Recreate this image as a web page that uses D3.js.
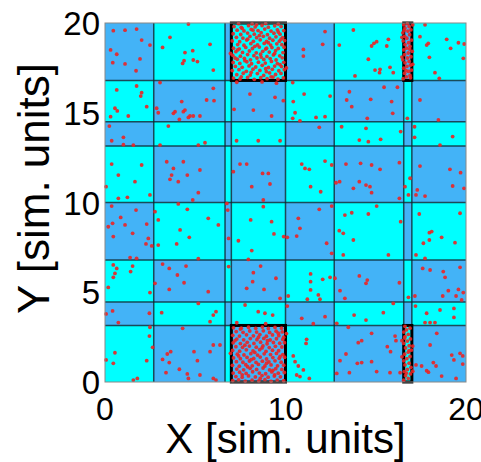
<!DOCTYPE html>
<html>
<head>
<meta charset="utf-8">
<script src="https://cdn.jsdelivr.net/npm/d3@7"></script>
<style>
  html, body { margin: 0; padding: 0; background: #fff; }
  svg { display: block; font-family: "Liberation Sans", Arial, sans-serif; }
</style>
</head>
<body>
<svg id="chart"></svg>
<script>
// cell boundaries of the decomposition (sim. units)
var xEdges = [0, 2.7, 6.65, 7.0, 10.0, 12.7, 16.55, 17.0, 20];
var yEdges = [0, 3.15, 4.45, 6.8, 10.0, 13.15, 14.5, 16.8, 20];

// overloaded cells [x0, x1, y0, y1]
var hotCells = [
    [7.0, 10.0, 16.8, 20], [7.0, 10.0, 0, 3.15],
    [16.55, 17.0, 16.8, 20], [16.55, 17.0, 0, 3.15]
];

var xTicks = [0, 10, 20];
var yTicks = [0, 5, 10, 15, 20];

// particles in the ordinary cells
var sparsePts = [
    [0.46,19.57],[1.11,19.6],[1.75,19.66],[2.03,19.05],[2.49,18.77],[0.31,18.5],[0.65,18.26],[1.94,18.0],[0.43,17.79],[1.72,17.34],[1.11,17.72],
    [4.62,19.94],[3.6,19.2],[3.19,18.64],[5.82,18.81],[4.43,18.35],[4.86,18.46],[4.38,17.9],[4.89,17.94],[5.12,17.85],[4.3,17.75],[6.0,17.38],
    [0.65,16.27],[1.75,16.49],[2.03,16.12],[1.98,15.93],[2.31,15.34],[0.55,15.25],[0.68,15.1],[1.29,14.82],[0.31,14.78],
    [3.05,16.68],[6.0,16.36],[5.63,15.71],[6.04,15.67],[4.25,15.62],[2.86,15.25],[2.95,15.0],[3.88,15.06],[4.34,15.06],[4.43,15.15],[3.79,14.97],[4.71,14.82],[4.62,14.74],[4.89,14.82],[5.26,14.82],[4.12,14.63],
    [8.03,16.04],[9.42,15.86],[9.88,15.67],[7.15,15.19],[8.22,15.15],[9.23,14.82],
    [0.24,14.26],[1.02,13.63],[0.37,13.44],[1.57,13.2],[1.02,13.22],
    [3.51,14.26],[5.54,13.33],[3.05,13.2],[5.17,13.2],
    [7.29,13.44],[8.49,13.44],[9.7,13.44],
    [0.37,12.14],[2.03,12.09],[0.74,11.53],[1.66,11.16],[0.06,10.88],[2.49,10.42],[0.74,10.23],[1.24,10.29],
    [3.42,12.27],[3.79,11.9],[4.34,12.27],[3.69,11.53],[3.6,11.29],[4.56,11.53],[4.06,11.16],[5.26,11.81],[5.17,10.55],[4.86,10.14],
    [7.48,12.14],[7.85,12.14],[8.73,11.62],[9.05,11.62],[9.14,11.03],[8.13,10.88],[8.77,10.14],[7.11,11.72],
    [0.37,9.8],[1.72,9.58],[0.87,9.17],[0.42,8.84],[0.18,8.65],[1.11,8.75],[1.53,8.28],[2.31,8.8],[0.46,8.1],[2.4,8.0],[2.27,7.69],[2.59,7.58],[1.39,6.93],[1.75,6.89],
    [4.06,9.92],[4.56,9.62],[2.77,9.49],[2.95,9.03],[5.72,9.12],[6.28,8.75],[4.16,8.47],[4.67,8.06],[3.97,7.69],[2.95,7.63],[5.17,6.87],
    [6.75,9.95],[6.8,9.58],[6.85,8.0],
    [8.77,9.77],[8.07,9.03],[9.23,8.93],[9.36,8.25],[9.9,8.1],[7.39,7.87],[8.13,7.32],[7.94,6.83],
    [0.46,6.52],[0.65,6.33],[1.53,6.46],[0.55,6.05],[0.46,5.83],[1.42,6.15],[0.18,5.27],[2.49,4.98],
    [3.19,6.57],[3.56,6.33],[4.49,6.46],[4.01,5.96],[4.38,5.53],[2.77,5.5],[3.56,5.16],[5.72,5.03],
    [6.85,6.43],
    [8.62,6.46],[8.22,6.09],[9.47,5.78],[8.18,5.59],[7.85,5.22],[8.81,5.16],[9.7,4.66],
    [0.06,3.79],[0.42,3.96],[2.46,3.83],[0.74,3.31],
    [3.14,3.86],[5.17,4.38],[6.15,3.92],[6.0,3.73],[5.82,3.36],
    [7.76,4.29],[8.49,3.92],[8.86,3.83],[9.29,3.73],
    [2.49,3.05],[2.46,2.56],[2.64,1.93],[0.55,1.63],[0.46,1.04],[2.31,1.19],[0.06,1.23],[1.57,0.11],[1.79,0.2],
    [4.3,2.99],[6.0,2.06],[6.37,2.06],[3.64,1.69],[3.45,1.56],[4.93,1.69],[5.82,1.69],[3.19,1.26],[5.12,1.19],[3.56,1.08],[4.12,0.71],[3.38,0.52],[4.56,0.45],[5.26,0.39],[4.62,0.2],[6.0,0.2],[6.15,0.11],
    [12.19,19.52],[12.06,18.81],[10.99,18.53],[10.99,18.16],
    [13.76,19.61],[12.98,18.77],[14.77,18.72],[14.9,18.87],[15.05,18.96],[15.7,19.09],[15.61,18.72],[14.59,17.98],[14.96,17.38],[15.24,17.42],[15.21,17.23],[15.79,17.53],[15.97,17.23],[13.85,17.05],
    [17.73,19.9],[17.91,18.87],[17.82,18.77],[18.93,19.09],[19.15,18.59],[19.58,18.9],[19.9,18.83],[19.85,18.03],[17.97,18.09],[18.28,17.23],[18.52,16.92],[17.45,19.24],
    [10.4,16.68],[11.03,16.04],[10.43,15.62],[12.47,15.93],[10.53,15.0],[10.4,14.69],[11.69,14.74],[12.19,14.78],[10.8,14.55],
    [13.54,16.17],[13.39,15.71],[13.67,15.34],[14.72,15.75],[15.46,16.42],[16.2,16.42],[15.88,15.62],[15.94,14.97],[14.53,14.69],
    [16.75,14.69],[17.45,15.71],[18.47,14.6],
    [11.87,14.19],
    [13.11,14.22],[14.46,14.13],[14.09,13.48],[14.59,13.39],[15.27,13.52],[16.38,13.95],
    [17.15,14.22],[19.26,13.67],[17.15,13.63],[18.56,13.2],
    [10.9,12.14],[11.08,11.9],[11.32,11.85],[12.19,12.31],[12.56,12.09],[11.39,10.88],[11.95,10.6],
    [13.35,12.14],[14.16,12.18],[14.77,12.09],[15.24,11.85],[16.31,12.22],[12.8,11.1],[13.0,11.16],[14.09,11.16],[14.46,10.97],[14.68,10.88],[13.76,10.79],[14.77,10.55],[16.31,10.23],
    [16.9,11.35],[16.62,10.88],[16.81,10.42],
    [17.45,12.03],[19.11,11.85],[19.7,11.66],[19.26,10.92],[19.89,10.79],[17.3,10.7],[17.23,10.42],[17.73,10.36],
    [12.56,9.8],[11.87,9.62],[10.71,9.12],[10.8,8.56],[10.62,8.13],[10.1,8.06],[12.28,7.73],[12.56,7.17],
    [15.05,9.8],[13.29,9.3],[13.67,9.43],[14.59,9.36],[16.38,8.93],[12.98,8.43],[13.2,8.28],[13.76,7.91],[13.2,7.08],[15.7,7.08],
    [17.41,9.36],[19.67,9.4],[17.97,8.32],[18.1,8.38],[17.97,7.91],[18.65,8.06],[17.64,7.73],[19.39,7.76],[17.23,7.08],[17.73,6.89],
    [11.39,6.02],[12.06,5.72],[12.47,5.83],[11.39,5.59],[11.39,5.13],[11.82,4.85],[11.91,4.61],[11.21,4.61],[10.15,4.79],
    [14.09,5.91],[14.53,5.68],[14.46,5.5],[12.74,5.78],[16.31,5.53],[13.02,5.09],[13.29,4.66],
    [16.81,4.72],
    [17.6,6.33],[18.01,6.24],[18.74,6.15],[18.84,5.83],[19.67,6.39],[19.58,5.16],[19.02,5.09],[18.71,4.79],[19.45,4.79],[19.85,4.98],[19.76,4.57],[17.17,4.79],
    [10.9,3.55],[11.54,3.25],[12.19,3.64],[10.1,4.23],
    [13.8,3.73],[14.46,3.45],[15.42,3.86],[15.97,4.38],[12.84,3.27],
    [17.82,3.83],[18.56,4.01],[19.33,4.1],[19.33,3.6],[17.73,3.31],[18.01,3.31],[18.28,3.31],[17.2,4.23],
    [11.17,2.38],[11.14,2.15],[10.43,1.45],[10.53,1.13],[10.71,0.89],[10.99,0.67],[10.62,0.39],[10.8,0.3],[11.32,0.2],
    [13.48,3.05],[14.77,2.71],[14.03,2.19],[14.22,2.3],[16.07,2.56],[16.12,2.3],[15.64,1.97],[15.82,1.69],[13.35,1.56],[14.77,1.13],[14.22,1.08],[13.98,1.04],[13.02,1.19],[13.54,0.52],[15.05,0.58],[15.79,0.52],[16.35,0.52],[12.84,0.48],
    [18.01,2.06],[18.38,2.71],[19.67,1.6],[19.82,1.45],[19.21,1.5],[19.33,1.23],[18.19,1.08],[17.54,0.89],[17.82,0.63],[17.92,0.55],[18.34,0.89],[18.65,0.33],[19.45,0.2],[19.82,1.0],[17.23,0.95]
];

// particles piled up in the two big overloaded cells
var denseTop = [
    [7.12,16.93],[7.48,16.88],[7.9,16.97],[8.27,16.86],[8.63,16.95],[8.98,16.9],[9.31,16.99],[9.58,16.87],[9.88,16.94],
    [7.3,17.12],[7.66,17.2],[8.05,17.1],[8.44,17.18],[8.79,17.08],[9.12,17.22],[9.45,17.13],[9.75,17.19],
    [7.05,17.35],[7.42,17.4],[7.83,17.31],[8.2,17.43],[8.58,17.36],[8.94,17.29],[9.27,17.42],[9.63,17.34],[9.93,17.4],
    [7.22,17.58],[7.6,17.53],[7.98,17.61],[8.35,17.55],[8.71,17.64],[9.06,17.52],[9.4,17.6],[9.78,17.57],
    [7.1,17.8],[7.47,17.75],[7.86,17.84],[8.12,17.73],[8.5,17.82],[8.88,17.77],[9.22,17.86],[9.55,17.74],[9.9,17.81],
    [7.33,17.98],[7.72,18.03],[8.06,17.95],[8.42,18.05],[8.8,17.97],[9.15,18.02],[9.48,17.94],[9.82,18.06],
    [7.08,18.2],[7.5,18.15],[7.9,18.24],[8.25,18.18],[8.62,18.26],[8.97,18.14],[9.33,18.22],[9.68,18.17],
    [7.25,18.4],[7.62,18.36],[8.0,18.44],[8.38,18.34],[8.74,18.42],[9.1,18.38],[9.45,18.46],[9.86,18.35],
    [7.12,18.6],[7.44,18.56],[7.8,18.64],[8.17,18.58],[8.55,18.66],[8.9,18.55],[9.25,18.63],[9.6,18.58],[9.92,18.65],
    [7.35,18.8],[7.7,18.76],[8.08,18.85],[8.45,18.78],[8.82,18.86],[9.18,18.77],[9.52,18.84],[9.8,18.79],
    [7.05,19.0],[7.46,18.96],[7.85,19.05],[8.22,18.98],[8.6,19.06],[8.95,18.97],[9.3,19.04],[9.66,18.99],[9.95,19.02],
    [7.28,19.2],[7.64,19.16],[8.03,19.25],[8.4,19.18],[8.77,19.26],[9.12,19.15],[9.47,19.23],[9.84,19.19],
    [7.1,19.4],[7.52,19.36],[7.9,19.44],[8.27,19.38],[8.65,19.46],[9.0,19.35],[9.36,19.43],[9.7,19.38],
    [7.32,19.6],[7.7,19.56],[8.1,19.64],[8.48,19.58],[8.85,19.66],[9.2,19.55],[9.55,19.62],[9.9,19.58],
    [7.15,19.8],[7.55,19.76],[7.95,19.85],[8.32,19.78],[8.7,19.86],[9.05,19.77],[9.4,19.84],[9.76,19.8],
    [7.4,19.96],[8.15,19.95],[8.9,19.97],[9.6,19.94],
    [7.55,17.0],[8.1,17.25],[8.9,17.45],[9.7,17.68],[7.75,17.9],[8.65,18.1],[9.4,18.3],[7.35,18.5],[8.3,18.7],[9.05,18.9],
    [7.9,19.1],[8.55,19.3],[9.6,19.5],[7.6,19.7],[8.4,19.9],[9.2,17.0],[7.2,18.05],[8.95,18.6],[9.75,19.1],[8.2,19.6],
    [7.3,16.7],[8.7,16.72],[9.5,16.65],[10.05,17.5],[6.95,18.3]
];

var denseBottom = [
    [7.08,0.08],[7.4,0.12],[7.77,0.05],[8.15,0.1],[8.52,0.06],[8.86,0.13],[9.2,0.04],[9.54,0.11],[9.9,0.07],
    [7.25,0.3],[7.6,0.26],[7.95,0.34],[8.33,0.28],[8.7,0.36],[9.04,0.27],[9.38,0.33],[9.72,0.29],
    [7.1,0.5],[7.46,0.55],[7.82,0.48],[8.18,0.57],[8.55,0.5],[8.9,0.46],[9.24,0.56],[9.6,0.49],[9.93,0.53],
    [7.3,0.72],[7.68,0.68],[8.04,0.76],[8.4,0.7],[8.76,0.78],[9.12,0.67],[9.46,0.74],[9.8,0.7],
    [7.06,0.93],[7.44,0.88],[7.8,0.96],[8.16,0.9],[8.5,0.98],[8.86,0.89],[9.2,0.95],[9.56,0.9],[9.9,0.94],
    [7.28,1.13],[7.64,1.1],[8.0,1.17],[8.37,1.09],[8.72,1.16],[9.08,1.12],[9.42,1.18],[9.76,1.1],
    [7.12,1.34],[7.5,1.3],[7.87,1.37],[8.24,1.31],[8.6,1.39],[8.95,1.28],[9.3,1.36],[9.65,1.32],[9.95,1.38],
    [7.33,1.55],[7.7,1.51],[8.08,1.58],[8.45,1.5],[8.82,1.57],[9.17,1.53],[9.5,1.59],[9.85,1.52],
    [7.07,1.76],[7.46,1.72],[7.83,1.79],[8.2,1.73],[8.57,1.8],[8.92,1.71],[9.28,1.77],[9.62,1.74],
    [7.25,1.97],[7.62,1.93],[8.0,2.0],[8.38,1.94],[8.75,2.01],[9.1,1.92],[9.44,1.99],[9.8,1.95],
    [7.1,2.18],[7.5,2.14],[7.88,2.21],[8.25,2.15],[8.62,2.22],[8.98,2.13],[9.33,2.2],[9.68,2.16],[9.94,2.19],
    [7.3,2.39],[7.68,2.35],[8.05,2.42],[8.42,2.36],[8.8,2.43],[9.15,2.34],[9.5,2.41],[9.85,2.37],
    [7.08,2.6],[7.45,2.56],[7.84,2.63],[8.22,2.57],[8.58,2.64],[8.94,2.55],[9.28,2.62],[9.63,2.58],
    [7.27,2.81],[7.65,2.77],[8.02,2.84],[8.4,2.78],[8.77,2.85],[9.12,2.76],[9.48,2.83],[9.82,2.79],
    [7.12,3.02],[7.55,3.0],[7.95,3.05],[8.35,2.99],[8.72,3.06],[9.05,2.98],[9.42,3.04],[9.78,3.0],
    [7.6,0.4],[8.6,0.2],[9.3,0.65],[7.9,0.85],[8.95,1.05],[7.4,1.45],[9.7,1.42],[8.3,1.65],[7.75,2.05],
    [9.0,2.3],[8.5,2.5],[9.6,2.72],[7.5,2.95],[8.1,1.25],[9.4,0.4],[7.2,2.3],[8.7,1.9],[9.9,2.5],
    [6.95,1.6],[10.05,2.7],[8.9,3.25],[7.3,3.3]
];

// particles in the thin overloaded strips
var stripTop = [
    [16.52,16.9],[16.7,17.0],[16.9,17.08],[16.6,17.2],[16.82,17.3],[16.98,17.38],[16.55,17.48],[16.72,17.58],[16.92,17.65],
    [16.62,17.78],[16.85,17.86],[16.5,17.95],[16.75,18.05],[16.95,18.12],[16.6,18.24],[16.8,18.33],[17.02,18.42],[16.55,18.5],
    [16.7,18.6],[16.9,18.7],[16.62,18.8],[16.82,18.9],[16.52,19.0],[16.98,19.05],[16.72,19.15],[16.6,19.26],[16.88,19.35],
    [16.5,19.45],[16.78,19.55],[16.95,19.62],[16.62,19.72],[16.85,19.8],[16.55,19.9],[16.75,19.96],[17.05,19.9],[16.45,18.1],
    [16.45,19.2],[17.05,17.7],[16.68,17.35],[16.88,18.55],[16.58,19.6],[16.92,16.95]
];

var stripBottom = [
    [16.55,0.1],[16.8,0.2],[16.65,0.35],[16.92,0.45],[16.58,0.58],[16.75,0.7],[16.95,0.82],[16.62,0.95],[16.85,1.05],
    [16.55,1.18],[16.72,1.3],[16.9,1.42],[16.6,1.55],[16.8,1.66],[16.98,1.78],[16.65,1.9],[16.85,2.02],[16.55,2.15],
    [16.75,2.28],[16.92,2.4],[16.62,2.52],[16.8,2.65],[16.55,2.78],[16.7,2.9],[16.9,3.0],[16.62,3.1],[16.45,1.4],
    [16.45,2.3],[17.05,0.6],[17.05,2.0],[16.7,0.5],[16.85,1.75],[16.6,2.45]
];

var colorA = "#00ffff",
    colorB = "#43b3f7";

var margin = { top: 23, right: 15, bottom: 80, left: 105 },
    width = 481 - margin.left - margin.right,
    height = 462 - margin.top - margin.bottom;

var x = d3.scaleLinear().domain([0, 20]).range([0, width]);
var y = d3.scaleLinear().domain([0, 20]).range([height, 0]);

var svg = d3.select("#chart")
    .attr("width", 481)
    .attr("height", 462)
    .append("g")
    .attr("transform", "translate(" + margin.left + "," + margin.top + ")");

// checkerboard of cells
var cells = [];
for (var i = 0; i < xEdges.length - 1; i++) {
    for (var j = 0; j < yEdges.length - 1; j++) {
        cells.push({ x0: xEdges[i], x1: xEdges[i + 1], y0: yEdges[j], y1: yEdges[j + 1], k: (i + j) % 2 });
    }
}

svg.selectAll("rect.cell")
    .data(cells)
    .enter()
    .append("rect")
    .attr("class", "cell")
    .attr("x", function (d) { return x(d.x0); })
    .attr("y", function (d) { return y(d.y1); })
    .attr("width", function (d) { return x(d.x1) - x(d.x0); })
    .attr("height", function (d) { return y(d.y0) - y(d.y1); })
    .style("fill", function (d) { return d.k ? colorB : colorA; });

// cell boundaries
svg.selectAll("line.vgrid")
    .data(xEdges.slice(1, -1))
    .enter()
    .append("line")
    .attr("x1", function (d) { return x(d); })
    .attr("x2", function (d) { return x(d); })
    .attr("y1", 0)
    .attr("y2", height)
    .style("stroke", "#0b2630")
    .style("stroke-opacity", 0.8)
    .style("stroke-width", 1.5);

svg.selectAll("line.hgrid")
    .data(yEdges.slice(1, -1))
    .enter()
    .append("line")
    .attr("x1", 0)
    .attr("x2", width)
    .attr("y1", function (d) { return y(d); })
    .attr("y2", function (d) { return y(d); })
    .style("stroke", "#0b2630")
    .style("stroke-opacity", 0.8)
    .style("stroke-width", 1.5);

// heavy frames of the overloaded cells
svg.selectAll("rect.hot")
    .data(hotCells)
    .enter()
    .append("rect")
    .attr("x", function (d) { return x(d[0]); })
    .attr("y", function (d) { return y(d[3]); })
    .attr("width", function (d) { return x(d[1]) - x(d[0]); })
    .attr("height", function (d) { return y(d[2]) - y(d[3]); })
    .style("fill", "none")
    .style("stroke", "#000")
    .style("stroke-width", 3);

var allPts = sparsePts.concat(denseTop, denseBottom, stripTop, stripBottom);

svg.selectAll("circle")
    .data(allPts)
    .enter()
    .append("circle")
    .attr("cx", function (d) { return x(d[0]); })
    .attr("cy", function (d) { return y(d[1]); })
    .attr("r", 1.9)
    .style("fill", "#ec2424")
    .style("fill-opacity", 0.9);

// axes box
svg.append("rect")
    .attr("width", width)
    .attr("height", height)
    .style("fill", "none")
    .style("stroke", "#888")
    .style("stroke-width", 1);

svg.selectAll("text.xt")
    .data(xTicks)
    .enter()
    .append("text")
    .attr("x", function (d) { return x(d); })
    .attr("y", height + 38)
    .attr("text-anchor", "middle")
    .style("font-size", "32px")
    .text(function (d) { return d; });

svg.selectAll("text.yt")
    .data(yTicks)
    .enter()
    .append("text")
    .attr("x", -5)
    .attr("y", function (d) { return y(d) + 12; })
    .attr("text-anchor", "end")
    .style("font-size", "33px")
    .text(function (d) { return d; });

svg.append("text")
    .attr("x", width / 2)
    .attr("y", height + 71)
    .attr("text-anchor", "middle")
    .style("font-size", "42px")
    .text("X [sim. units]");

svg.append("text")
    .attr("transform", "translate(-56," + (height / 2 - 14) + ") rotate(-90)")
    .attr("text-anchor", "middle")
    .style("font-size", "44px")
    .text("Y [sim. units]");
</script>
</body>
</html>
